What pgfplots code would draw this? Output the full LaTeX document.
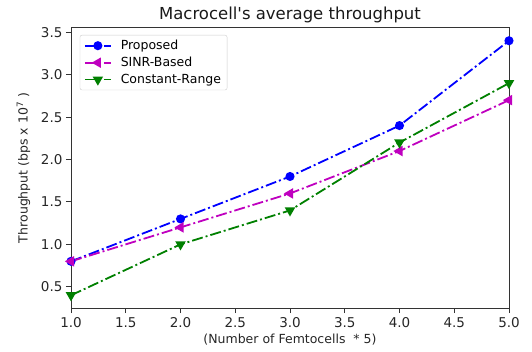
\documentclass[border=0pt]{standalone}
\usepackage{pgfplots}
\pgfplotsset{compat=1.18}
\usepackage{fontspec}
\setmainfont{DejaVu Sans}
\definecolor{mplblue}{rgb}{0,0,1}
\definecolor{mplmag}{rgb}{0.75,0,0.75}
\definecolor{mplgreen}{rgb}{0,0.5,0}
\begin{document}
\begin{tikzpicture}[x=1pt,y=1pt]
\useasboundingbox (0,0) rectangle (532,351);
\begin{axis}[
  at={(71pt,43pt)}, anchor=south west,
  scale only axis, width=438pt, height=280pt,
  xmin=1, xmax=5, ymin=0.25, ymax=3.55,
  xtick={1,1.5,...,5}, ytick={0.5,1,...,3.5},
  /pgf/number format/assume math mode=true,
  /pgf/number format/.cd, fixed, fixed zerofill, precision=1, /pgfplots/.cd,
  tick align=outside, tick pos=left,
  major tick length=5pt,
  axis line style={line width=1pt, black!80},
  tick style={line width=1pt, black!80},
  tick label style={font=\fontsize{13.5}{15}\selectfont, text=black!85},
  xticklabel style={yshift=-1pt},
  label style={font=\fontsize{12.5}{14}\selectfont, text=black!85},
  xlabel style={yshift=1pt},
  ylabel style={yshift=4pt},
  title style={font=\fontsize{16.5}{18}\selectfont, yshift=-4pt, text=black!90},
  title={Macrocell\textquotesingle s average throughput},
  xlabel={(Number of Femtocells~ * 5)},
  ylabel={Throughput (bps x 10\textsuperscript{7} )},
  legend style={at={(0.02,0.975)}, anchor=north west, font=\fontsize{12.5}{14}\selectfont, draw=black!20, rounded corners=2pt, row sep=2pt, inner xsep=4pt, inner ysep=3pt, /tikz/every odd column/.append style={column sep=7pt}},
  legend image code/.code={\draw[mark repeat=2, mark phase=2] plot coordinates {(0pt,0pt) (13pt,0pt) (26pt,0pt)};},
  legend image post style={sharp plot},
  legend cell align=left,
  every axis plot/.append style={line width=1.8pt, dash pattern=on 11pt off 3pt on 2pt off 3pt},
]
\addplot[color=mplblue, mark=*, mark size=3.6pt, mark options={solid}] coordinates {(1,0.8) (2,1.3) (3,1.8) (4,2.4) (5,3.4)};
\addlegendentry{Proposed}
\addplot[color=mplmag, mark=triangle*, mark size=4.3pt, mark options={solid, rotate=90}] coordinates {(1,0.8) (2,1.2) (3,1.6) (4,2.1) (5,2.7)};
\addlegendentry{SINR-Based}
\addplot[color=mplgreen, mark=triangle*, mark size=4.3pt, mark options={solid, rotate=180}] coordinates {(1,0.4) (2,1.0) (3,1.4) (4,2.2) (5,2.9)};
\addlegendentry{Constant-Range}
\end{axis}
\end{tikzpicture}
\end{document}
